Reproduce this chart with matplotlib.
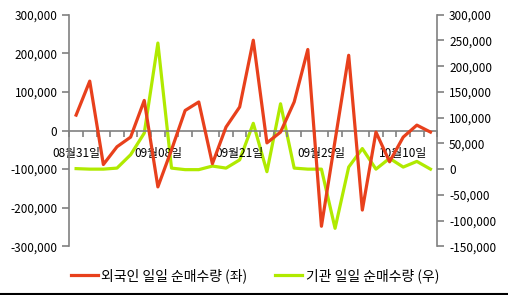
import numpy as np
import matplotlib
matplotlib.use('Agg')
import matplotlib.pyplot as plt
from matplotlib.ticker import FuncFormatter, MultipleLocator, FixedLocator

plt.rcParams['font.family'] = ['Noto Sans CJK KR', 'DejaVu Sans']

# 27 trading days, label every 6th
tick_labels = ['08월31일', '09월08일', '09월21일', '09월29일', '10월10일']
label_step = 6

foreign = [40000, 128000, -88000, -42000, -17000, 78000, -146000, -50000,
           52000, 74000, -86000, 9000, 61000, 234000, -32000, -4000,
           74000, 210000, -248000, -26000, 195000, -206000, -4000, -81000,
           -17000, 14000, -4000]
institution = [1000, 0, 0, 2000, 28000, 70000, 245000, 2000,
               -1000, -1000, 6000, 2000, 18000, 89000, -5000, 127000,
               2000, 0, 0, -115000, 4000, 40000, 0, 21000,
               4000, 15000, 0]

red = '#E8401C'
green = '#B0EA00'
grey = '#808080'

x = np.arange(len(foreign))

fig = plt.figure(figsize=(5.08, 2.95), dpi=100)
ax = fig.add_axes([0.1364, 0.165, 0.7244, 0.785])
ax2 = ax.twinx()

l1, = ax.plot(x, foreign, color=red, lw=2.3, label='외국인 일일 순매수량 (좌)', zorder=3)
l2, = ax2.plot(x, institution, color=green, lw=2.3, label='기관 일일 순매수량 (우)', zorder=2)
ax.set_zorder(ax2.get_zorder() + 1)
ax.patch.set_visible(False)

ax.set_xlim(-0.5, len(x) - 0.5)
ax.set_ylim(-300000, 300000)
ax2.set_ylim(-150000, 300000)
ax.yaxis.set_major_locator(MultipleLocator(100000))
ax2.yaxis.set_major_locator(MultipleLocator(50000))
fmt = FuncFormatter(lambda v, p: f'{v:,.0f}')
ax.yaxis.set_major_formatter(fmt)
ax2.yaxis.set_major_formatter(fmt)

for a in (ax, ax2):
    a.spines['top'].set_visible(False)
    for s in ('left', 'right', 'bottom'):
        a.spines[s].set_color(grey)
        a.spines[s].set_linewidth(1.2)
    a.tick_params(axis='y', colors=grey, labelcolor='black', labelsize=8.5,
                  length=5, width=1.2)
ax2.spines['bottom'].set_visible(False)
ax.spines['right'].set_visible(False)
ax2.spines['left'].set_visible(False)

ax.spines['bottom'].set_position(('data', 0))
ax.set_xticks(x[::label_step])
ax.set_xticklabels(tick_labels)
ax.xaxis.set_minor_locator(FixedLocator(np.arange(-0.5, len(x) + 0.5, 1)))
ax.tick_params(axis='x', which='major', length=0, pad=12, labelsize=8.5)
ax.tick_params(axis='x', which='minor', length=4, width=1.2, colors=grey, direction='out')

fig.legend(handles=[l1, l2], loc='center', bbox_to_anchor=(0.502, 0.066), ncol=2,
           frameon=False, fontsize=10, handlelength=1.95, handletextpad=0.25,
           columnspacing=2.0)

fig.add_artist(plt.Line2D([0, 1], [0.004, 0.004], color='black', lw=1.5,
                          transform=fig.transFigure))

fig.savefig('out.png', dpi=100)
